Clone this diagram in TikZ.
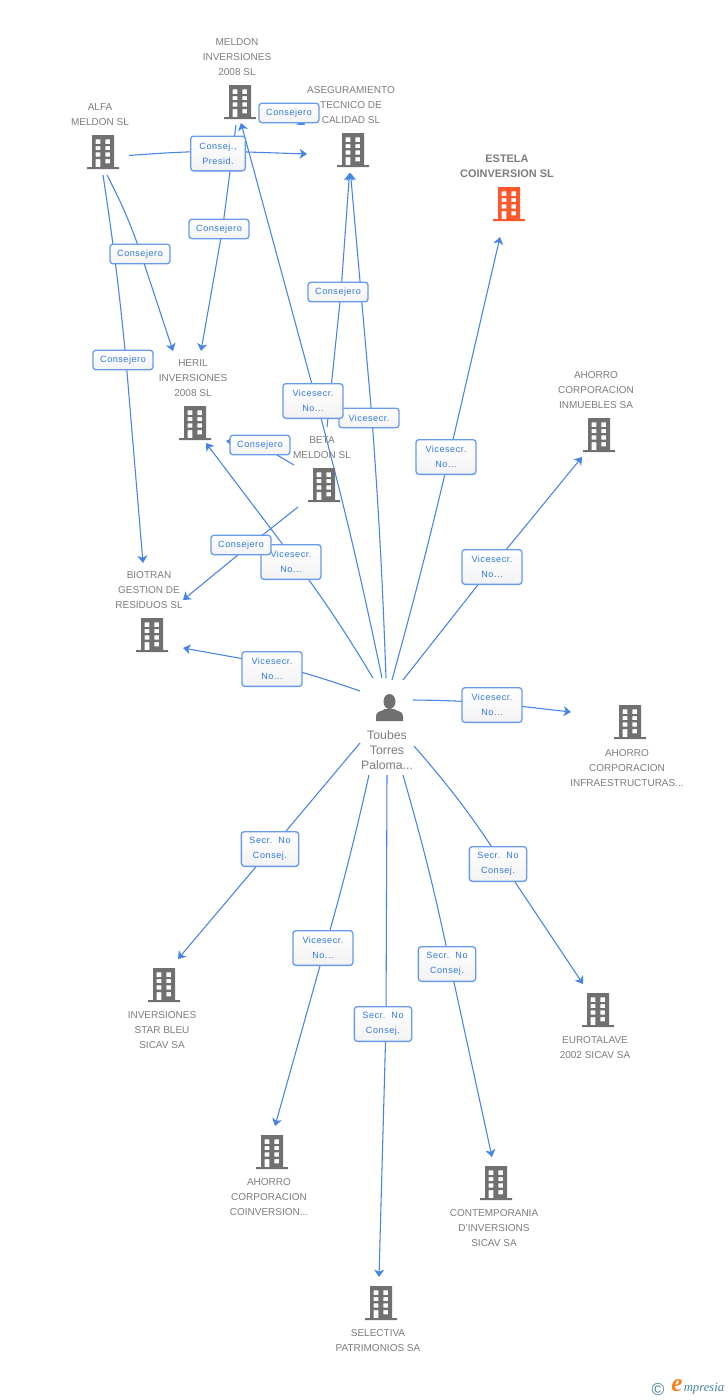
\documentclass[tikz,border=0pt]{standalone}
\usepackage{fontspec}
\setmainfont{Liberation Sans}
\newfontfamily\lblfont[LetterSpace=6]{Liberation Sans}
\newfontfamily\logofont{Liberation Serif}
\usetikzlibrary{arrows.meta,backgrounds,calc}
\definecolor{linkblue}{RGB}{70,132,230}
\definecolor{boxblue}{RGB}{105,155,235}
\definecolor{lbltext}{RGB}{50,120,225}
\definecolor{bldgray}{RGB}{112,112,112}
\definecolor{txtgray}{RGB}{125,125,125}
\definecolor{hot}{RGB}{255,87,41}
\definecolor{logoteal}{RGB}{70,130,155}
\definecolor{logoorange}{RGB}{245,130,30}
\tikzset{
  x=0.75pt,y=-0.75pt,
  link/.style={draw=linkblue,line width=0.8pt},
  arr/.style={link,-{Stealth[length=5.5pt,width=7.5pt,inset=1.5pt]}},
  lab/.style={draw=boxblue,line width=1pt,rounded corners=2.2pt,top color=white,bottom color=black!5,
    text=lbltext,align=center,inner sep=0pt,
    font=\lblfont\fontsize{6.8}{11.25}\selectfont},
  one/.style={lab,minimum width=45pt,minimum height=14.6pt},
  two/.style={lab,minimum width=45pt,minimum height=26pt},
  orgname/.style={text=txtgray,align=center,inner sep=0pt,yshift=-0.75pt,
    font=\fontsize{7.5}{11.25}\selectfont},
  bname/.style={orgname,font=\bfseries\fontsize{8.2}{11.25}\selectfont},
  pname/.style={orgname,yshift=0.75pt,font=\fontsize{9.2}{11.25}\selectfont},
  icon/.style={inner sep=0pt,minimum width=24pt,minimum height=25.5pt},
}
\newcommand{\bld}[4][bldgray]{%
  \node[icon] (#2) at (#3,#4) {};
  \fill[#1,even odd rule,shift={(#3,#4)}]
    (-11,-17) rectangle (11,15)
    (-16,15) rectangle (16,17.2)
    (-7.3,-12.7) rectangle (-2.7,-8) (2.3,-12.7) rectangle (7,-8)
    (-7.3,-6) rectangle (-2.7,-2) (2.3,-6) rectangle (7,-2)
    (-7.3,0.3) rectangle (-2.7,4.7) (2.3,0.3) rectangle (7,4.7)
    (-7.3,7) rectangle (-2.7,15) (2.3,7) rectangle (7,11.3);
}
\begin{document}
\begin{tikzpicture}
\useasboundingbox (0,0) rectangle (728,1400);

% buildings
\bld{alfa}{103}{152}
\bld{meldon}{240}{102}
\bld{aseg}{353}{150}
\bld[hot]{estela}{509}{204}
\bld{inmu}{599}{435}
\bld{heril}{195}{423}
\bld{beta}{324}{485}
\bld{biotran}{152}{635}
\bld{infra}{630}{722}
\bld{euro}{598}{1010}
\bld{contemp}{496}{1183}
\bld{selectiva}{381}{1303}
\bld{coinv}{272}{1152}
\bld{star}{164}{985}

% person
\node[inner sep=0pt,minimum width=20pt,minimum height=20pt] (person) at (390,707.5) {};
\fill[bldgray] (389.5,701.5) ellipse (6 and 7.5);
\fill[bldgray] (376,721) -- (376,716) .. controls (376,711) and (382,711.5) .. (385,709)
  -- (394,709) .. controls (397,711.5) and (403,711) .. (403,716) -- (403,721) -- cycle;

% names
\node[orgname] (nalfa) at (100,113.5) {ALFA\\MELDON SL};
\node[orgname] (nmeldon) at (237,56.5) {MELDON\\INVERSIONES\\2008 SL};
\node[orgname] (naseg) at (351,104) {ASEGURAMIENTO\\TECNICO DE\\CALIDAD SL};
\node[bname] (nestela) at (507,165.5) {ESTELA\\COINVERSION SL};
\node[orgname] (ninmu) at (596,389) {AHORRO\\CORPORACION\\INMUEBLES SA};
\node[orgname] (nheril) at (193,377) {HERIL\\INVERSIONES\\2008 SL};
\node[orgname] (nbeta) at (322,446.5) {BETA\\MELDON SL};
\node[orgname] (nbiotran) at (149,589) {BIOTRAN\\GESTION DE\\RESIDUOS SL};
\node[orgname] (ninfra) at (627,767) {AHORRO\\CORPORACION\\INFRAESTRUCTURAS...};
\node[orgname] (neuro) at (595,1046.5) {EUROTALAVE\\2002 SICAV SA};
\node[orgname] (ncontemp) at (494,1227) {CONTEMPORANIA\\D'INVERSIONS\\SICAV SA};
\node[orgname] (nselectiva) at (378,1339.5) {SELECTIVA\\PATRIMONIOS SA};
\node[orgname] (ncoinv) at (269,1196) {AHORRO\\CORPORACION\\COINVERSION...};
\node[orgname] (nstar) at (162,1029) {INVERSIONES\\STAR BLEU\\SICAV SA};
\node[pname] (nperson) at (387,750) {Toubes\\Torres\\Paloma...};

% labels
\node[one] (l17) at (289,113) {Consejero};
\node[two,minimum width=41pt] (l13) at (218,153.5) {Consej., \\Presid.};
\node[one] (l16) at (219,229) {Consejero};
\node[one] (l14) at (140,254) {Consejero};
\node[one] (l15) at (123,360) {Consejero};
\node[one] (l18) at (338,292) {Consejero};
\node[one] (l12) at (369,418) {Vicesecr.};
\node[two] (l11) at (313,401) {Vicesecr.\\No...};
\node[one] (l19) at (260,445) {Consejero};
\node[two] (l10) at (291,562) {Vicesecr.\\No...};
\node[one] (l20) at (241,545) {Consejero};
\node[two] (l1) at (446,457) {Vicesecr.\\No...};
\node[two] (l2) at (492,567) {Vicesecr.\\No...};
\node[two] (l9) at (272,669) {Vicesecr.\\No...};
\node[two] (l3) at (492,705) {Vicesecr.\\No...};
\node[two,minimum width=43pt] (l8) at (270,849) {Secr.\ \ No\\Consej.};
\node[two,minimum width=43pt] (l4) at (498,864) {Secr.\ \ No\\Consej.};
\node[two] (l7) at (323,948) {Vicesecr.\\No...};
\node[two,minimum width=43pt] (l5) at (447,964) {Secr.\ \ No\\Consej.};
\node[two,minimum width=43pt] (l6) at (383,1024) {Secr.\ \ No\\Consej.};

% free ends of connectors
\coordinate (s1) at (392,680); \coordinate (e1) at (500,237);
\coordinate (s2) at (403,680); \coordinate (e2) at (582,457);
\coordinate (s3) at (413,700); \coordinate (e3) at (571,712);
\coordinate (s4) at (414,746); \coordinate (e4) at (583,984);
\coordinate (s5) at (403,775); \coordinate (e5) at (492,1157);
\coordinate (s6) at (387,775); \coordinate (e6) at (379,1277);
\coordinate (s7) at (369,775); \coordinate (e7) at (275,1126);
\coordinate (s8) at (360,743); \coordinate (e8) at (178,959);
\coordinate (s9) at (360,691); \coordinate (e9) at (183,648);
\coordinate (s10) at (373,678); \coordinate (e10) at (206,443);
\coordinate (s11) at (382,678); \coordinate (e11) at (241,123);
\coordinate (s12) at (386,678); \coordinate (e12) at (350.5,173);
\coordinate (s13) at (129,155.5); \coordinate (e13) at (307,154);
\coordinate (s14) at (107,175); \coordinate (e14) at (173,351);
\coordinate (s15) at (103,175); \coordinate (e15) at (143,563);
\coordinate (s16) at (236,125); \coordinate (e16) at (201,351);
\coordinate (s17) at (262,112); \coordinate (e17) at (305,125);
\coordinate (s18) at (327,427); \coordinate (e18) at (349.5,173);
\coordinate (s19) at (294,465); \coordinate (e19) at (226,441);
\coordinate (s20) at (298,507); \coordinate (e20) at (183,600);

% connectors under the labels: edge / offset from label centre / bends
\begin{scope}[on background layer]
\fill[white] (0,0) rectangle (728,1400);
\foreach \i/\dx/\dy/\a/\b in {
  1/3/0/-1/0, 2/0/0/0/0, 3/0/-2/1.5/0, 4/5/0/4/0, 5/3/0/2/0,
  6/3/0/0/0, 7/2/0/1.5/0, 8/1/0/0/0, 9/0/-5/-2/0, 10/5/0/-2.5/0,
  11/3.5/0/-1.5/0, 12/3/0/-1/0, 13/0/-2.5/1.5/0, 14/1/0/4/0, 15/3/0/1.5/0,
  16/3.5/0/0/0, 17/0/0/0/0, 18/3/0/0/0, 19/0/0/0/0, 20/9/0/0/0}{
  \draw[link] (s\i) to[bend left=\a] ($(l\i.center)+(\dx,\dy)$);
  \draw[arr] ($(l\i.center)+(\dx,\dy)$) to[bend left=\b] (e\i);
}
\end{scope}

% logo
\node[inner sep=0pt,text=logoteal,font=\fontsize{13}{13}\selectfont] (copy) at (658,1389) {©};
\node[inner sep=0pt,text=logoorange,font=\logofont\itshape\bfseries\fontsize{19}{19}\selectfont] (loge) at (677,1386) {e};
\node[inner sep=0pt,text=logoteal,font=\logofont\itshape\fontsize{9.5}{9.5}\selectfont] (logm) at (704,1389) {mpresia};
\end{tikzpicture}
\end{document}
